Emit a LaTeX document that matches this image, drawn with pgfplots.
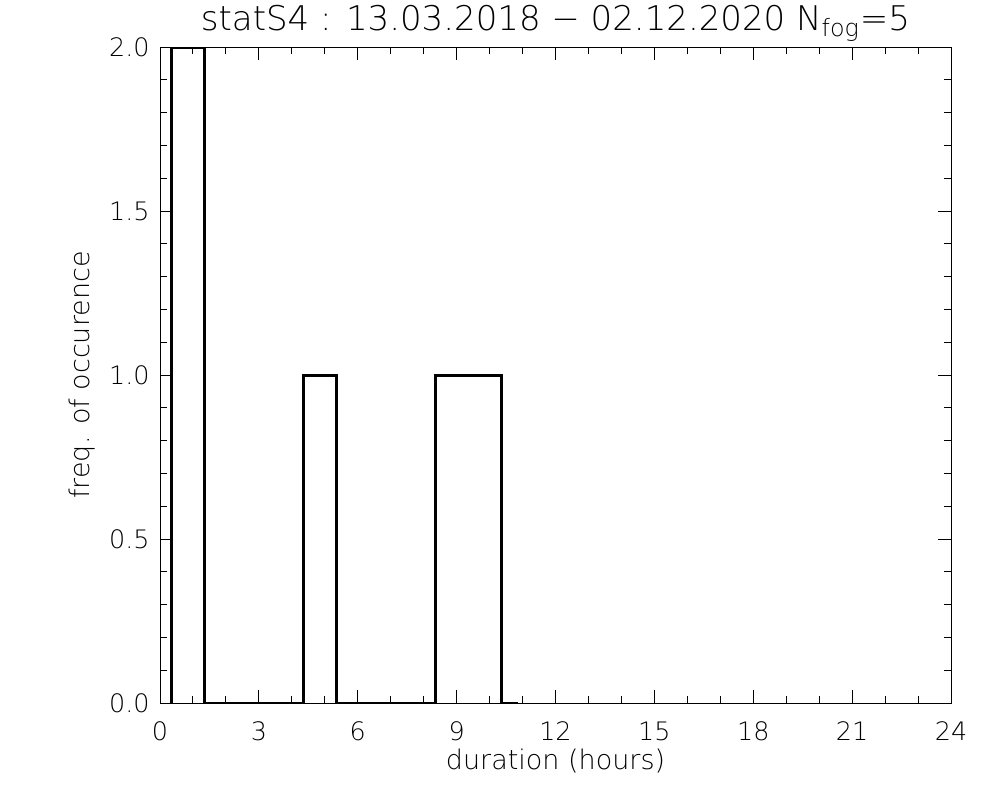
\documentclass[border=0pt]{standalone}
\usepackage{pgfplots}
\pgfplotsset{compat=1.18}
\usepackage{fontspec}
\setmainfont{DejaVu Sans ExtraLight}
\begin{document}
\begin{tikzpicture}
\path[use as bounding box] (0pt,0pt) rectangle (500pt,400pt);
\begin{axis}[
  at={(80pt,48.5pt)}, anchor=south west,
  scale only axis, width=395.5pt, height=328pt,
  xmin=0, xmax=24, ymin=0, ymax=2,
  xtick={0,3,...,24}, ytick={0,0.5,...,2},
  minor x tick num=2, minor y tick num=4,
  tick align=inside, xtick pos=both, ytick pos=both,
  major tick length=6.5pt, minor tick length=3.5pt,
  axis line style={line width=0.5pt},
  every tick/.style={line width=0.5pt, black},
  /pgf/number format/assume math mode=true,
  yticklabel style={/pgf/number format/fixed, /pgf/number format/fixed zerofill, /pgf/number format/precision=1,
    anchor=east, inner sep=0pt, xshift=-5pt},
  tick label style={font=\fontsize{12.7}{15}\selectfont},
  xticklabel style={anchor=base, inner sep=0pt, yshift=-18.5pt},
  xlabel={duration (hours)}, ylabel={freq. of occurence},
  label style={font=\fontsize{13.5}{15}\selectfont},
  xlabel style={at={(axis description cs:0.5,-0.1021)}, anchor=base, inner sep=0pt},
  ylabel style={at={(axis description cs:-0.0885,0.5)}, anchor=base, rotate=0, inner sep=0pt},
  title={statS4 : 13.03.2018 − 02.12.2020 N\textsubscript{fog}=5},
  title style={font=\fontsize{17}{19}\selectfont, at={(axis description cs:0.5,1)}, anchor=base, inner sep=0pt, yshift=2.5pt},
  clip=true,
]
\addplot[black, line width=1.5pt] coordinates {
 (0.36,0) (0.36,2) (1.36,2) (1.36,0) (4.36,0) (4.36,1) (5.36,1) (5.36,0)
 (8.36,0) (8.36,1) (10.36,1) (10.36,0) (10.86,0)
};
\end{axis}
\end{tikzpicture}
\end{document}
